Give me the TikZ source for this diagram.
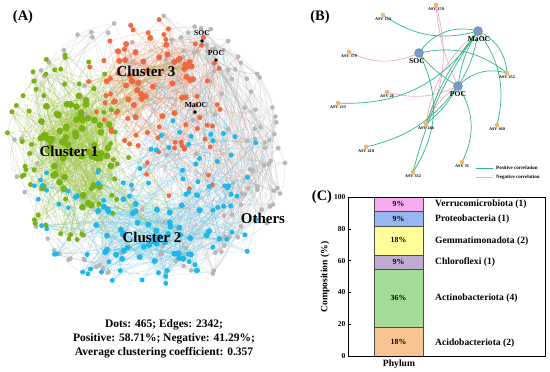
\documentclass[tikz,border=0pt]{standalone}
\usepackage{fontspec}
\setmainfont{Liberation Serif}
\definecolor{cgreen}{RGB}{122,178,22}
\definecolor{cred}{RGB}{240,104,64}
\definecolor{cblue}{RGB}{28,184,236}
\definecolor{cgray}{RGB}{182,182,182}
\definecolor{egreen}{RGB}{160,200,70}
\definecolor{ered}{RGB}{240,150,120}
\definecolor{eblue}{RGB}{110,200,235}
\definecolor{egray}{RGB}{190,190,190}
\definecolor{bnode}{RGB}{122,155,200}
\definecolor{onode}{RGB}{246,182,104}
\definecolor{poscol}{RGB}{52,182,132}
\definecolor{negcol}{RGB}{240,172,196}
\definecolor{cVer}{RGB}{248,172,240}
\definecolor{cPro}{RGB}{152,182,240}
\definecolor{cGem}{RGB}{255,255,153}
\definecolor{cChl}{RGB}{190,172,212}
\definecolor{cAct}{RGB}{162,220,150}
\definecolor{cAci}{RGB}{250,196,146}
\newcommand\myfs[1]{\fontsize{#1}{#1}\selectfont}
% points of a cluster: prefix, count, cx, cy, rx, ry, rmin, amin, amax
\newcommand\mkpts[9]{%
  \foreach \i in {1,...,#2}{%
    \pgfmathsetmacro\rr{#7+(1-#7)*sqrt(rnd)}%
    \pgfmathsetmacro\aa{#8+(#9-#8)*rnd}%
    \coordinate (#1\i) at ({#3+#5*\rr*cos(\aa)},{#4+#6*\rr*sin(\aa)});%
  }}
% random edges: prefixA, countA, prefixB, countB, number, style
\newcommand\mkedges[6]{%
  \foreach \k in {1,...,#5}{%
    \pgfmathtruncatemacro\ia{random(1,#2)}%
    \pgfmathtruncatemacro\ib{random(1,#4)}%
    \pgfmathtruncatemacro\bb{random(0,60)-30}%
    \ifnum\ia=\ib\relax\else
    \draw[#6] (#1\ia) to[bend left=\bb] (#3\ib);\fi
  }}
\newcommand\mkdots[4]{%
  \foreach \i in {1,...,#2}{\fill[#3] (#1\i) circle (#4pt);}}
\begin{document}
\begin{tikzpicture}[x=1pt,y=-1pt,font=\bfseries,
  gE/.style={draw=egreen,line width=0.35pt,opacity=0.5},
  rE/.style={draw=ered,line width=0.35pt,opacity=0.5},
  bE/.style={draw=eblue,line width=0.35pt,opacity=0.45},
  yE/.style={draw=egray,line width=0.35pt,opacity=0.45},
  kE/.style={draw=black!40,line width=0.35pt,opacity=0.5},
  clab/.style={font=\bfseries\myfs{15}, inner sep=0},
  plab/.style={font=\bfseries\myfs{14.5}, inner sep=0},
  blk/.style={circle, fill=black, minimum size=3.6pt, inner sep=0},
  blkl/.style={font=\bfseries\myfs{7.6}, inner sep=0},
  bigb/.style={circle, fill=bnode, draw=bnode!80!black, line width=0.3pt, minimum size=9pt, inner sep=0},
  smo/.style={circle, fill=onode, minimum size=4.6pt, inner sep=0},
  asvl/.style={font=\bfseries\myfs{4.2}, inner sep=0.3pt},
  bigl/.style={font=\bfseries\myfs{7.6}, inner sep=0},
  posE/.style={draw=poscol, line width=0.7pt},
  negE/.style={draw=negcol, line width=0.7pt},
  legf/.style={font=\bfseries\myfs{5}, inner sep=0},
  ctxt/.style={font=\bfseries\myfs{9.6}, inner sep=0},
  tklab/.style={font=\bfseries\myfs{7.5}, inner sep=0},
  pct/.style={font=\bfseries\myfs{7.8}, inner sep=0},
  segbox/.style={draw=black!70, line width=0.4pt}
]
\useasboundingbox (0,0) rectangle (550,372);
\fill[white] (0,0) rectangle (550,372);

%%%%%%%%%%%%%%%% Panel A : network %%%%%%%%%%%%%%%%
\pgfmathsetseed{4242}
\mkpts{gc}{65}{72}{152}{42}{60}{0}{0}{360}
\mkpts{go}{60}{68}{148}{62}{95}{0.45}{0}{360}
\mkpts{rc}{42}{150}{78}{45}{42}{0}{0}{360}
\mkpts{ro}{45}{155}{85}{72}{68}{0.5}{0}{360}
\mkpts{rt}{15}{182}{165}{40}{35}{0}{0}{360}
\mkpts{bc}{48}{150}{230}{62}{35}{0}{0}{360}
\mkpts{bo}{55}{150}{225}{110}{60}{0.45}{0}{360}
\mkpts{bs}{22}{205}{148}{55}{48}{0}{0}{360}
\mkpts{bl}{8}{42}{200}{30}{30}{0}{0}{360}
\mkpts{yc}{85}{148}{152}{140}{138}{0.58}{-85}{85}
\mkpts{ys}{30}{148}{152}{130}{130}{0}{0}{360}
\mkpts{yl}{25}{148}{152}{137}{137}{0.88}{95}{265}
\coordinate (aSOC) at (202,41);
\coordinate (aPOC) at (216,60);
\coordinate (aMaOC) at (195,112);

% edges
\mkedges{yc}{85}{yc}{85}{240}{yE}
\mkedges{yc}{85}{ys}{30}{70}{yE}
\mkedges{yl}{25}{yl}{25}{30}{yE}
\mkedges{yl}{25}{go}{60}{30}{yE}
\mkedges{yl}{25}{bo}{55}{20}{yE}
\mkedges{ro}{45}{yc}{85}{40}{rE}
\mkedges{rc}{42}{rc}{42}{140}{rE}
\mkedges{rc}{42}{ro}{45}{120}{rE}
\mkedges{ro}{45}{rt}{15}{40}{rE}
\mkedges{rt}{15}{bs}{22}{20}{rE}
\mkedges{bc}{48}{bc}{48}{120}{bE}
\mkedges{bc}{48}{bo}{55}{140}{bE}
\mkedges{bo}{55}{bs}{22}{60}{bE}
\mkedges{bs}{22}{rc}{42}{30}{bE}
\mkedges{bo}{55}{yc}{85}{40}{bE}
\mkedges{bl}{8}{bc}{48}{20}{bE}
\mkedges{gc}{65}{bc}{48}{40}{gE}
\mkedges{gc}{65}{rc}{42}{40}{gE}
\mkedges{gc}{65}{gc}{65}{300}{gE}
\mkedges{gc}{65}{go}{60}{170}{gE}
\mkedges{go}{60}{go}{60}{60}{gE}
\foreach \k in {1,...,6}{%
  \pgfmathtruncatemacro\ia{random(1,85)}%
  \pgfmathtruncatemacro\ib{random(1,40)}%
  \draw[kE] (aSOC) to[bend left=15] (yc\ia);
  \draw[kE] (aPOC) to[bend right=15] (yc\ib);
  \draw[kE] (aMaOC) to[bend left=10] (ro\ib);
}

% dots
\mkdots{yc}{85}{cgray}{2.3}
\mkdots{ys}{30}{cgray}{2.3}
\mkdots{yl}{25}{cgray}{2.3}
\mkdots{go}{60}{cgreen}{2.5}
\mkdots{gc}{65}{cgreen}{3.4}
\mkdots{ro}{45}{cred}{2.5}
\mkdots{rt}{15}{cred}{2.4}
\mkdots{rc}{42}{cred}{3.0}
\mkdots{bo}{55}{cblue}{2.5}
\mkdots{bs}{22}{cblue}{2.5}
\mkdots{bl}{8}{cblue}{2.4}
\mkdots{bc}{48}{cblue}{3.0}
\node[blk] (nSOC) at (aSOC) {};
\node[blk] (nPOC) at (aPOC) {};
\node[blk] (nMaOC) at (aMaOC) {};
\node[blkl] (tSOC) at (202,33) {SOC};
\node[blkl] (tPOC) at (216,53) {POC};
\node[blkl] (tMaOC) at (196,105) {MaOC};

\node[plab] (labA) at (23,17) {(A)};
\node[clab] (c1) at (69,151) {Cluster 1};
\node[clab] (c3) at (146,71) {Cluster 3};
\node[clab] (c2) at (152,237) {Cluster 2};
\node[clab] (c4) at (263,218) {Others};
\node[font=\bfseries\myfs{11.5}, align=center, inner sep=0] (stats) at (164,339)
  {Dots: 465; Edges: 2342;\\[2.4pt]Positive: 58.71\%; Negative: 41.29\%;\\[2.4pt]Average clustering coefficient: 0.357};

%%%%%%%%%%%%%%%% Panel B %%%%%%%%%%%%%%%%
\node[plab] (labB) at (320,17) {(B)};
\coordinate (MaOC) at (478,31);
\coordinate (SOC) at (419,53);
\coordinate (POC) at (458,86);
\coordinate (A159) at (436,5);
\coordinate (A134) at (383,15);
\coordinate (A379) at (349,52);
\coordinate (A252) at (507,73);
\coordinate (A28) at (387,92);
\coordinate (A233) at (338,103);
\coordinate (A246) at (426,124);
\coordinate (A460) at (497,125);
\coordinate (A418) at (366,147);
\coordinate (A76) at (462,162);
\coordinate (A332) at (413,172);

\draw[negE] (A379) to[bend right=25] (SOC);
\draw[negE] (A159) to[bend right=10] (POC);
\draw[negE] (A28) to[bend right=20] (POC);
\draw[negE] (A246) to[bend left=20] (MaOC);
\draw[negE] (A246) to[bend left=15] (POC);
\draw[negE] (A159) to[bend left=20] (A246);

\draw[posE] (A134) to[bend right=25] (MaOC);
\draw[posE] (SOC) to[bend left=35] (MaOC);
\draw[posE] (SOC) to[bend left=25] (A252);
\draw[posE] (MaOC) to[bend left=30] (A252);
\draw[posE] (MaOC) to[bend left=25] (A460);
\draw[posE] (POC) to[bend left=30] (A252);
\draw[posE] (SOC) to[bend right=10] (POC);
\draw[posE] (MaOC) to[bend left=12] (POC);
\draw[posE] (MaOC) to[bend right=12] (POC);
\draw[posE] (A233) to[bend right=30] (MaOC);
\draw[posE] (A418) to[bend right=20] (POC);
\draw[posE] (A332) to[bend right=30] (SOC);
\draw[posE] (A332) to[bend left=10] (MaOC);
\draw[posE] (POC) to[bend left=30] (A76);
\draw[posE] (A246) to[bend left=10] (MaOC);
\draw[posE] (A246) to[bend right=10] (POC);

\node[bigb] (nMaOCb) at (MaOC) {};
\node[bigb] (nSOCb) at (SOC) {};
\node[bigb] (nPOCb) at (POC) {};
\node[bigl] (lMaOC) at (479,39.5) {MaOC};
\node[bigl] (lSOC) at (417,61.5) {SOC};
\node[bigl] (lPOC) at (458,94) {POC};
\foreach \n/\t in {A159/ASV 159, A134/ASV 134, A379/ASV 379, A252/ASV 252, A28/ASV 28,
  A233/ASV 233, A246/ASV 246, A460/ASV 460, A418/ASV 418, A76/ASV 76, A332/ASV 332}{
  \node[smo, label={[asvl]below:\t}] (n\n) at (\n) {};
}
\coordinate (lp1) at (476,168); \coordinate (lp2) at (493,168);
\coordinate (ln1) at (476,177.5); \coordinate (ln2) at (493,177.5);
\draw[posE] (lp1) -- (lp2);
\draw[negE] (ln1) -- (ln2);
\node[legf, anchor=west] (lpt) at (496,168) {Positive correlation};
\node[legf, anchor=west] (lnt) at (496,177.5) {Negative correlation};

%%%%%%%%%%%%%%%% Panel C %%%%%%%%%%%%%%%%
\node[plab] (labC) at (322,197) {(C)};
\fill[cAci] (374,356) rectangle (423,327.1);
\fill[cAct] (374,327.1) rectangle (423,269.3);
\fill[cChl] (374,269.3) rectangle (423,254.8);
\fill[cGem] (374,254.8) rectangle (423,225.9);
\fill[cPro] (374,225.9) rectangle (423,211.5);
\fill[cVer] (374,211.5) rectangle (423,197);
\foreach \ya/\yb in {356/327.1, 327.1/269.3, 269.3/254.8, 254.8/225.9, 225.9/211.5, 211.5/197}{
  \draw[segbox] (374,\ya) rectangle (423,\yb);
}
\draw[line width=0.5pt] (348,197) rectangle (545,356);
\foreach \v in {0,20,40,60,80,100}{
  \draw[line width=0.5pt] (348,{356-1.59*\v}) -- ++(3,0);
  \node[tklab, anchor=east] (tk\v) at (345.5,{356-1.59*\v}) {\v};
}
\node[pct] (p1) at (398.5,341.5) {18\%};
\node[pct] (p2) at (398.5,298.2) {36\%};
\node[pct] (p3) at (398.5,262) {9\%};
\node[pct] (p4) at (398.5,240.4) {18\%};
\node[pct] (p5) at (398.5,218.7) {9\%};
\node[pct] (p6) at (398.5,204.3) {9\%};
\node[ctxt, anchor=west] (r6) at (435,204.3) {Verrucomicrobiota (1)};
\node[ctxt, anchor=west] (r5) at (435,218.7) {Proteobacteria (1)};
\node[ctxt, anchor=west] (r4) at (435,240.8) {Gemmatimonadota (2)};
\node[ctxt, anchor=west] (r3) at (435,262.3) {Chloroflexi (1)};
\node[ctxt, anchor=west] (r2) at (435,298.2) {Actinobacteriota (4)};
\node[ctxt, anchor=west] (r1) at (435,343) {Acidobacteriota (2)};
\node[font=\bfseries\myfs{9.6}, rotate=90, inner sep=0] (ylab) at (325,277) {Composition (\%)};
\node[font=\bfseries\myfs{9.6}, inner sep=0] (xlab) at (399,364) {Phylum};
\end{tikzpicture}
\end{document}
